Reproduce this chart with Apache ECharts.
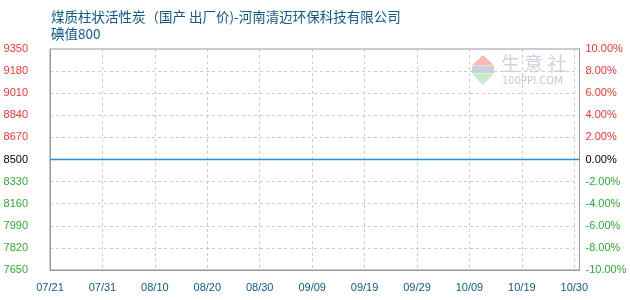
<!DOCTYPE html>
<html>
<head>
<meta charset="utf-8">
<script src="https://cdn.jsdelivr.net/npm/echarts@6/dist/echarts.min.js"></script>
<style>html,body{margin:0;padding:0;background:#fff}#c{width:630px;height:300px}</style>
</head>
<body>
<div id="c"></div>
<script>
// ---- data ----
const titleText = '煤质柱状活性炭（国产 出厂价)-河南清迈环保科技有限公司';
const subTitleText = '碘值800';
const xTickLabels = ['07/21','07/31','08/10','08/20','08/30','09/09','09/19','09/29','10/09','10/19','10/30'];
const xTickStepDays = 10.1;
const xRangeDays = 102;           // 07/21 .. 10/31
const seriesDays = [0, 102];
const seriesPrices = [8500, 8500];
const leftMin = 7650, leftMax = 9350, leftStep = 170, basePrice = 8500;
const rightMin = -10, rightMax = 10, rightStep = 2;

const chart = echarts.init(document.getElementById('c'), null, {renderer: 'canvas'});
const FONT = 'Liberation Sans';
const option = {
  animation: false,
  backgroundColor: '#fff',
  title: {
    text: titleText,
    subtext: subTitleText,
    left: 46, top: 5,
    itemGap: 4,
    textStyle: {color: '#10598a', fontSize: 13.5, fontWeight: 'normal', fontFamily: 'Noto Sans CJK SC'},
    subtextStyle: {color: '#10598a', fontSize: 13.5, fontFamily: 'Noto Sans CJK SC'}
  },
  grid: {left: 50, right: 50.5, top: 49, bottom: 30, show: true, borderColor: '#999', borderWidth: 1},
  xAxis: {
    type: 'value', min: 0, max: xRangeDays, interval: xTickStepDays,
    axisLine: {show: true, onZero: false, lineStyle: {color: '#999'}},
    axisTick: {show: false},
    splitLine: {show: true, showMinLine: false, showMaxLine: false, lineStyle: {color: '#ccc', type: [3, 3]}},
    axisLabel: {
      margin: 12, color: '#10598a', fontSize: 11, fontFamily: FONT,
      showMaxLabel: true,
      formatter: function (v) {
        const i = Math.round(v / xTickStepDays);
        return (Math.abs(v - i * xTickStepDays) < 1e-6 && i < xTickLabels.length) ? xTickLabels[i] : '';
      }
    }
  },
  yAxis: [{
    type: 'value', min: leftMin, max: leftMax, interval: leftStep,
    axisLine: {show: true, onZero: false, lineStyle: {color: '#999'}},
    axisTick: {show: false},
    splitLine: {show: true, showMinLine: false, showMaxLine: false, lineStyle: {color: '#ccc', type: [3, 3]}},
    axisLabel: {
      margin: 22, fontSize: 11, fontFamily: FONT,
      formatter: function (v) { return String(Math.round(v)); },
      color: function (v) { v = Number(String(v).replace(/,/g, '')); return v > basePrice ? '#ff3333' : (v < basePrice ? '#33aa33' : '#000'); }
    }
  }, {
    type: 'value', min: rightMin, max: rightMax, interval: rightStep, position: 'right',
    axisLine: {show: true, onZero: false, lineStyle: {color: '#999'}},
    axisTick: {show: false},
    splitLine: {show: false},
    axisLabel: {
      margin: 6, fontSize: 11, fontFamily: FONT,
      formatter: function (v) { return v.toFixed(2) + '%'; },
      color: function (v) { v = Number(v); return v > 0 ? '#ff3333' : (v < 0 ? '#33aa33' : '#000'); }
    }
  }],
  graphic: [
    {type: 'polygon', shape: {points: [[483, 55], [472, 65.5], [494, 65.5]]}, style: {fill: '#f6b9b0'}, z: 0},
    {type: 'rect', shape: {x: 472, y: 66, width: 22, height: 7}, style: {fill: '#c9d0e0'}, z: 0},
    {type: 'polygon', shape: {points: [[472, 73.5], [494, 73.5], [483, 85]]}, style: {fill: '#c6ebc6'}, z: 0},
    {type: 'text', left: 501, top: 54, style: {text: '生 意 社', fill: '#cdd3e2', font: '19px "Noto Sans CJK SC"'}, z: 0},
    {type: 'text', left: 502, top: 76, style: {text: '100PPI.COM', fill: '#c8c8c8', font: '10px "DejaVu Sans"'}, z: 0}
  ],
  series: [{
    type: 'line', yAxisIndex: 0, xAxisIndex: 0,
    data: seriesDays.map((d, i) => [d, seriesPrices[i]]),
    showSymbol: false,
    lineStyle: {color: '#2a8fd8', width: 1.5},
    itemStyle: {color: '#2a8fd8'},
    zlevel: 1, z: 10
  }]
};
chart.setOption(option);
</script>
</body>
</html>
